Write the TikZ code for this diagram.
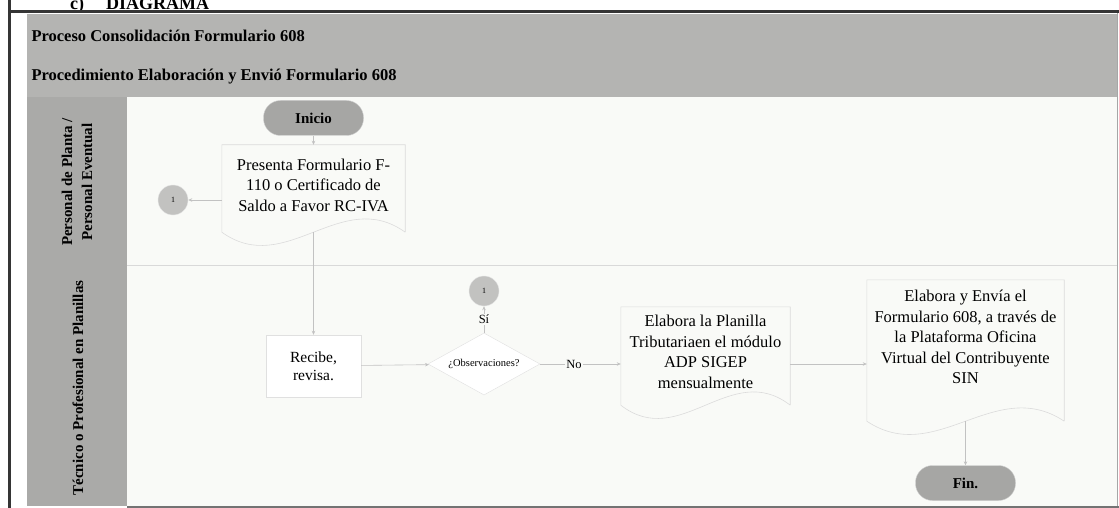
\documentclass[tikz,border=0pt]{standalone}
\usepackage{fontspec}
\setmainfont{Liberation Serif}
\usetikzlibrary{shapes.geometric,arrows.meta,calc}
\definecolor{bandgray}{HTML}{B4B4B2}
\definecolor{lanegray}{HTML}{AAAAA8}
\definecolor{termgray}{HTML}{A6A6A4}
\definecolor{circgray}{HTML}{C2C2C0}
\definecolor{paper}{HTML}{F9FAF7}
\definecolor{framegray}{HTML}{353535}
% document outline: #1 node, #2 drop of the wavy edge below the node
\newcommand\docwave[2]{\coordinate (#1-l) at ([yshift=-#2]#1.south west);
  \coordinate (#1-r) at ([yshift=-#2]#1.south east);
  \coordinate (#1-b) at ([yshift=-#2]#1.south);
  \draw[docline] (#1-r) -- (#1.north east) -- (#1.north west) -- (#1-l)
  .. controls ($(#1-l)!.35!(#1-r)+(0,46)$) and ($(#1-l)!.65!(#1-r)+(0,-46)$) .. (#1-r);}

\begin{document}
\begin{tikzpicture}[x=1pt,y=-1pt,
    flow/.style={draw=black!24,line width=.6pt,-{Stealth[length=4pt,width=3.5pt]}},
    docline/.style={draw=black!14,line width=.6pt},
    terminal/.style={rectangle,rounded corners=17pt,minimum width=100pt,minimum height=35pt,
      fill=termgray,draw=black!18,font=\bfseries\fontsize{15}{18}\selectfont},
    docbox/.style={rectangle,inner sep=0pt,align=center,font=\fontsize{16.5}{20.5}\selectfont},
    procbox/.style={rectangle,draw=black!12,fill=white,align=center,
      font=\fontsize{15.5}{18.5}\selectfont},
    decision/.style={diamond,aspect=2,draw=black!12,fill=white,inner sep=0pt,minimum width=112pt,
      minimum height=62pt,font=\fontsize{10.5}{12}\selectfont},
    conn/.style={circle,fill=circgray,draw=black!10,minimum size=30pt,inner sep=0pt,
      font=\fontsize{8}{9}\selectfont},
    lanetxt/.style={rotate=90,align=center,font=\bfseries\fontsize{15}{20}\selectfont},
    headtxt/.style={anchor=west,font=\bfseries\fontsize{16.5}{20}\selectfont},
    lbl/.style={fill=paper,inner sep=1.5pt,font=\fontsize{12.5}{14}\selectfont}]
  \useasboundingbox (0,0) rectangle (1119,508);
  \fill[white] (0,0) rectangle (1119,508);
  \fill[paper] (127,97) rectangle (1117,506);
  \fill[bandgray] (27,14) rectangle (1117,97); \fill[lanegray] (27,97) rectangle (127,506);
  \draw[black!15] (127,265) -- (1117,265);
  \draw[black!35,line width=1pt] (1117,13) -- (1117,506);
  \draw[black!55,line width=2pt] (127,507) -- (1119,507);
  \begin{scope}
    \clip (0,0) rectangle (1119,11);
    \node[anchor=base west,inner sep=0pt,font=\bfseries\fontsize{18}{20}\selectfont] (ttl) at (70,10)
    {c)\hspace{22pt}DIAGRAMA};
  \end{scope}
  \draw[framegray,line width=3pt] (9,0) -- (9,508); \draw[framegray,line width=3pt] (9,12) -- (1119,12);
  % header and lanes
  \node[headtxt] (hproc) at (28,36) {Proceso Consolidación Formulario 608};
  \node[headtxt] (hproc2) at (28,77) {Procedimiento Elaboración y Envió Formulario 608};
  \node[lanetxt] (lane1) at (77,182) {Personal de Planta /\\Personal Eventual};
  \node[lanetxt] (lane2) at (78,388) {Técnico o Profesional en Planillas};
  % steps
  \node[terminal] (ini) at (313.5,118) {Inicio};
  \node[docbox,minimum width=183pt,minimum height=80pt] (pres) at (313.5,185)
  {Presenta Formulario F-\\110 o Certificado de\\Saldo a Favor RC-IVA}; \docwave{pres}{7pt}
  \node[conn] (c1) at (173,200) {1};
  \node[procbox,minimum width=95pt,minimum height=62pt] (rec) at (313.5,366) {Recibe,\\revisa.};
  \node[decision] (dec) at (484,364) {¿Observaciones?};
  \node[conn] (c2) at (484,291) {1};
  \node[docbox,minimum width=169pt,minimum height=90pt] (plan) at (705.5,352)
  {Elabora la Planilla\\Tributariaen el módulo\\ADP SIGEP\\mensualmente}; \docwave{plan}{8pt}
  \node[docbox,minimum width=197pt,minimum height=114pt] (envia) at (965.5,337)
  {Elabora y Envía el\\Formulario 608, a través de\\la Plataforma Oficina\\Virtual del Contribuyente\\SIN};
  \docwave{envia}{27pt}
  \node[terminal] (fin) at (965.5,483) {Fin.};
  % connectors
  \draw[flow] (ini) -- (pres); \draw[flow] (pres.west |- c1) -- (c1);
  \draw[flow] (pres-b) -- (rec); \draw[flow] (rec) -- (dec);
  \draw[flow] (dec) -- node[lbl] {Sí} (c2);
  \draw[flow] (dec) -- node[lbl,pos=.42] {No} (plan.west |- dec);
  \draw[flow] (plan.east |- dec) -- (envia.west |- dec); \draw[flow] (envia-b) -- (fin);
\end{tikzpicture}
\end{document}
